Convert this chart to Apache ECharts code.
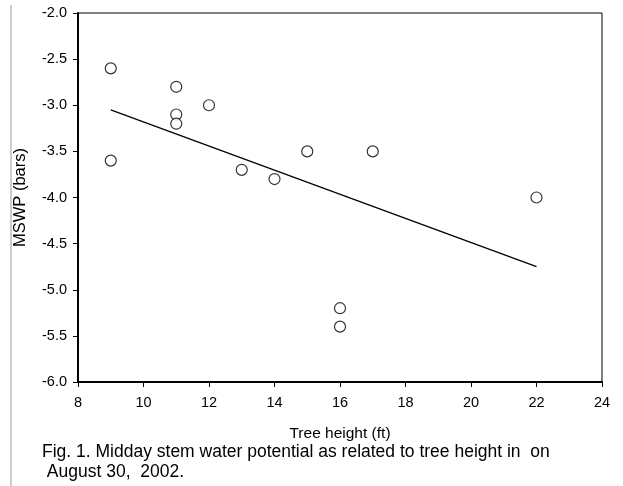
<!DOCTYPE html>
<html>
<head>
<meta charset="utf-8">
<script src="https://cdn.jsdelivr.net/npm/echarts@6/dist/echarts.min.js"></script>
<style>
  html, body { margin: 0; padding: 0; background: #fff; }
  #chart { width: 623px; height: 486px; }
</style>
</head>
<body>
<div id="chart"></div>
<script>
// tree height (ft) and midday stem water potential (bars)
var treeHeight = [9, 9, 11, 11, 11, 12, 13, 14, 15, 16, 16, 17, 22];
var mswp = [-2.6, -3.6, -2.8, -3.1, -3.2, -3.0, -3.7, -3.8, -3.5, -5.2, -5.4, -3.5, -4.0];
// regression line ends
var trendX = [9, 22];
var trendY = [-3.05, -4.75];

var font = 'Liberation Sans, Arial, sans-serif';

var points = treeHeight.map(function (x, i) { return [x, mswp[i]]; });
var trend = trendX.map(function (x, i) { return [x, trendY[i]]; });

var myChart = echarts.init(document.getElementById('chart'));
var option = {
    animation: false,
    backgroundColor: '#fff',
    grid: {
        left: 78, top: 13, right: 21, bottom: 104,
        show: true, borderColor: '#000', borderWidth: 1
    },
    xAxis: {
        type: 'value', min: 8, max: 24, interval: 2,
        name: 'Tree height (ft)', nameLocation: 'middle', nameGap: 44,
        nameTextStyle: { color: '#000', fontSize: 15.5, fontFamily: font },
        axisLine: { onZero: false, lineStyle: { color: '#000', width: 2 } },
        axisTick: { length: 5, lineStyle: { color: '#000' } },
        axisLabel: { color: '#000', fontSize: 14.5, fontFamily: font, margin: 13 },
        splitLine: { show: false }
    },
    yAxis: {
        type: 'value', min: -6, max: -2, interval: 0.5,
        name: 'MSWP (bars)', nameLocation: 'middle', nameGap: 49, nameRotate: 90,
        nameTextStyle: { color: '#000', fontSize: 16.5, fontFamily: font },
        axisLine: { onZero: false, lineStyle: { color: '#000', width: 2 } },
        axisTick: { length: 5, lineStyle: { color: '#000' } },
        axisLabel: {
            color: '#000', fontSize: 14.5, fontFamily: font, margin: 11,
            formatter: function (v) { return v.toFixed(1); }
        },
        splitLine: { show: false }
    },
    graphic: [
        {
            type: 'line',
            shape: { x1: 11, y1: 5, x2: 11, y2: 486 },
            style: { stroke: '#999', lineWidth: 1 }
        },
        {
            type: 'text', left: 42, top: 442,
            style: {
                text: 'Fig. 1. Midday stem water potential as related to tree height in  on\n August 30,  2002.',
                fill: '#000', font: '17.5px ' + font, lineHeight: 20
            }
        }
    ],
    series: [
        {
            type: 'line',
            data: trend,
            symbol: 'none',
            lineStyle: { color: '#000', width: 1.3 },
            z: 2
        },
        {
            type: 'scatter',
            data: points,
            symbol: 'circle',
            symbolSize: 11,
            itemStyle: { color: '#fff', borderColor: '#000', borderWidth: 1.2 },
            z: 3
        }
    ]
};
myChart.setOption(option);
</script>
</body>
</html>
